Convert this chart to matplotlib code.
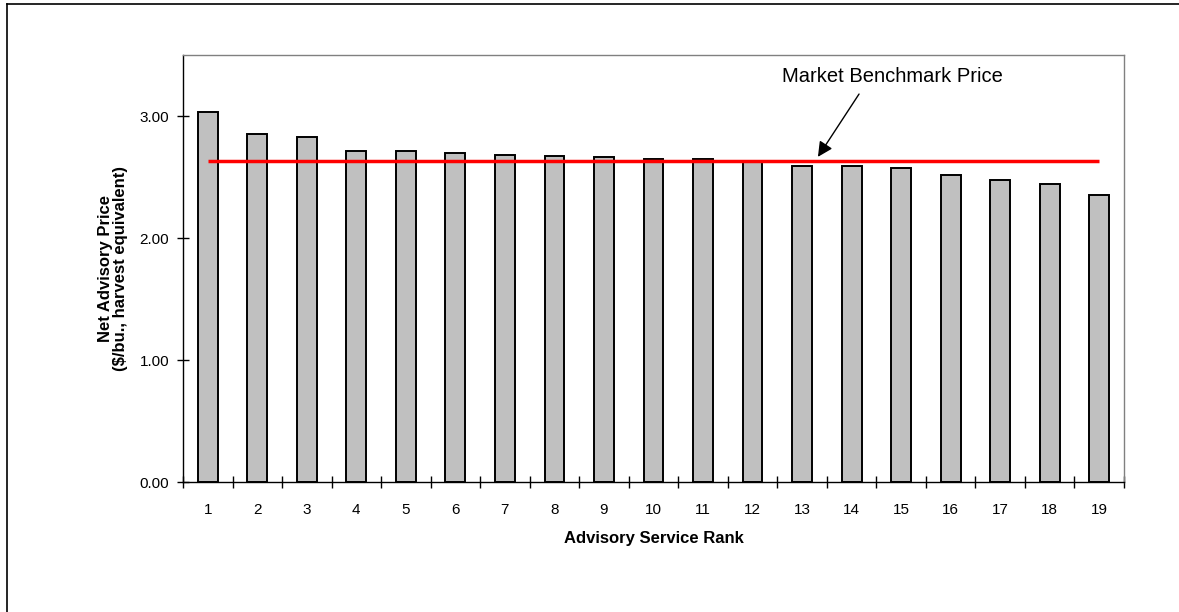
import matplotlib
matplotlib.use("Agg")
import matplotlib.pyplot as plt
from matplotlib.lines import Line2D

plt.rcParams['font.family'] = ['Liberation Sans', 'DejaVu Sans']

ranks = list(range(1, 20))
rank_labels = [str(r) for r in ranks]
net_prices = [3.03, 2.855, 2.83, 2.71, 2.71, 2.70, 2.68, 2.675, 2.66, 2.645,
              2.645, 2.625, 2.59, 2.59, 2.574, 2.52, 2.478, 2.443, 2.355]
benchmark_price = 2.63
y_ticks = [0, 1, 2, 3]
y_tick_labels = ["0.00", "1.00", "2.00", "3.00"]

fig = plt.figure(figsize=(11.79, 6.12), dpi=100)
W, H = 1179, 612
ax = fig.add_axes([183 / W, 1 - 482 / H, (1124 - 183) / W, (482 - 55) / H])

ax.bar(ranks, net_prices, width=0.4, color="#C0C0C0", edgecolor="black",
       linewidth=1.4, zorder=2)
ax.plot([ranks[0], ranks[-1]], [benchmark_price, benchmark_price],
        color="#FF0000", linewidth=2.5, zorder=3, solid_capstyle="butt")

ax.set_xlim(0.5, 19.5)
ax.set_ylim(0, 3.5)
ax.set_yticks(y_ticks)
ax.set_yticklabels(y_tick_labels, fontsize=11)
ax.set_xticks(ranks)
ax.set_xticklabels(rank_labels, fontsize=11)
ax.set_xticks([r - 0.5 for r in ranks] + [19.5], minor=True)
ax.tick_params(axis="x", which="major", length=0, pad=15)
ax.tick_params(axis="x", which="minor", direction="inout", length=8, width=1)
ax.tick_params(axis="y", which="major", direction="inout", length=8, width=1, pad=6)

for s in ["left", "bottom"]:
    ax.spines[s].set_color("black")
    ax.spines[s].set_linewidth(1.0)
for s in ["top", "right"]:
    ax.spines[s].set_color("#808080")
    ax.spines[s].set_linewidth(1.0)

ax.set_xlabel("Advisory Service Rank", fontsize=12, fontweight="bold", labelpad=10)
ax.set_ylabel("Net Advisory Price\n($/bu., harvest equivalent)", fontsize=12,
              fontweight="bold", labelpad=8, linespacing=1.0)

ax.annotate("", xy=(13.32, 2.665), xytext=(14.15, 3.18),
            arrowprops=dict(arrowstyle="-|>,head_length=0.6,head_width=0.3",
                            color="black", lw=1.0, mutation_scale=15,
                            shrinkA=0, shrinkB=0))
ax.text(14.83, 3.32, "Market Benchmark Price", fontsize=14.5,
        ha="center", va="center")

# outer chart border (left and top edges visible)
for (x0, y0, x1, y1) in [(7, 4, 7, 612), (7, 4, 1179, 4)]:
    fig.add_artist(Line2D([x0 / W, x1 / W], [1 - y0 / H, 1 - y1 / H],
                          transform=fig.transFigure, color="black", linewidth=1.2))

fig.savefig("out.png", dpi=100)
